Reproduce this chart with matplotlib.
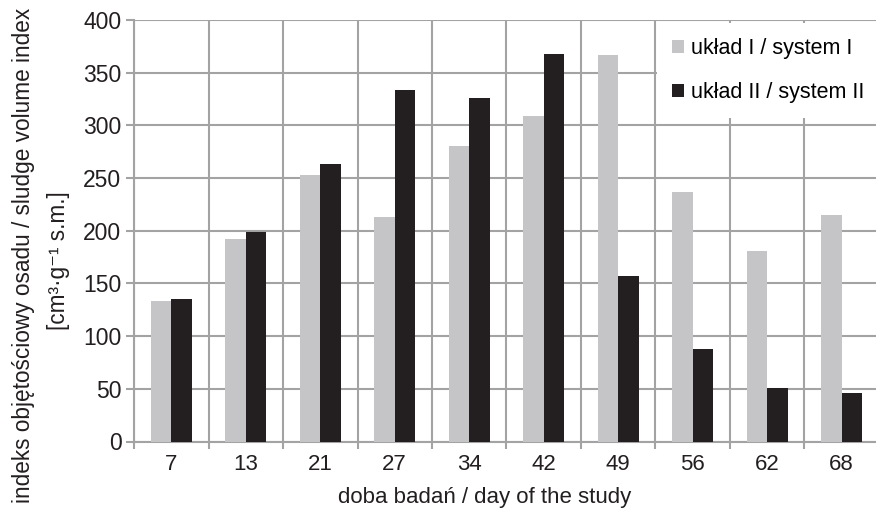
import numpy as np
import matplotlib.pyplot as plt

days = ["7", "13", "21", "27", "34", "42", "49", "56", "62", "68"]
system_1 = [133, 192, 253, 213, 280, 309, 367, 237, 181, 215]
system_2 = [135, 199, 263, 334, 326, 368, 157, 88, 51, 46]
y_ticks = [0, 50, 100, 150, 200, 250, 300, 350, 400]

grid_col = "#a3a3a3"
txt_col = "#231f20"
font_norm = ["Liberation Sans", "DejaVu Sans"]

fig = plt.figure(figsize=(8.76, 5.13), dpi=100)
ax = fig.add_axes([134 / 876, 1 - 441.5 / 513, 745 / 876, 421.5 / 513])

x = np.arange(len(days))
w = 0.275
ax.bar(x - w / 2, system_1, w, color="#c5c5c7", label="układ I / system I", zorder=3)
ax.bar(x + w / 2, system_2, w, color="#231f20", label="układ II / system II", zorder=3)

ax.set_xlim(-0.5, len(days) - 0.5)
ax.set_ylim(0, 400)
ax.set_yticks(y_ticks)
ax.set_yticklabels([str(v) for v in y_ticks], family=font_norm, fontsize=16.5, color=txt_col)
ax.set_xticks(x)
ax.set_xticklabels(days, family=font_norm, fontsize=16, color=txt_col)
ax.set_xticks(np.arange(-0.5, len(days), 1), minor=True)

ax.tick_params(axis="x", which="major", length=0, pad=9)
ax.tick_params(axis="x", which="minor", length=5, width=1.5, color=grid_col, direction="out")
ax.tick_params(axis="y", length=6, width=1.5, color=grid_col, pad=3)

ax.grid(axis="y", color=grid_col, linewidth=1.5, zorder=0)
ax.grid(axis="x", which="minor", color=grid_col, linewidth=1.5, zorder=0)
ax.set_axisbelow(True)
for s in ["top", "right"]:
    ax.spines[s].set_visible(False)
for s in ["left", "bottom"]:
    ax.spines[s].set_color(grid_col)
    ax.spines[s].set_linewidth(1.5)

leg = ax.legend(loc="upper right", bbox_to_anchor=(745 / 745, 1 - 3 / 421.5),
                prop={"family": font_norm, "size": 15.5}, frameon=True, fancybox=False,
                handlelength=0.55, handleheight=0.55, handletextpad=0.3,
                labelspacing=1.05, borderpad=0.7, borderaxespad=0)
leg.get_frame().set_edgecolor("none")
leg.get_frame().set_facecolor("white")
leg.get_frame().set_alpha(1)

fig.text(24 / 876, 1 - 255 / 513, "indeks objętościowy osadu / sludge volume index",
         rotation=90, ha="center", va="center", family=font_norm, fontsize=16.3, color=txt_col)
fig.text(58 / 876, 1 - 261 / 513, "[cm³·g⁻¹ s.m.]",
         rotation=90, ha="center", va="center", family=font_norm, fontsize=16.3, color=txt_col)
fig.text(485 / 876, 1 - 498 / 513, "doba badań / day of the study",
         ha="center", va="center", family=font_norm, fontsize=16, color=txt_col)

fig.savefig("out.png", dpi=100)
